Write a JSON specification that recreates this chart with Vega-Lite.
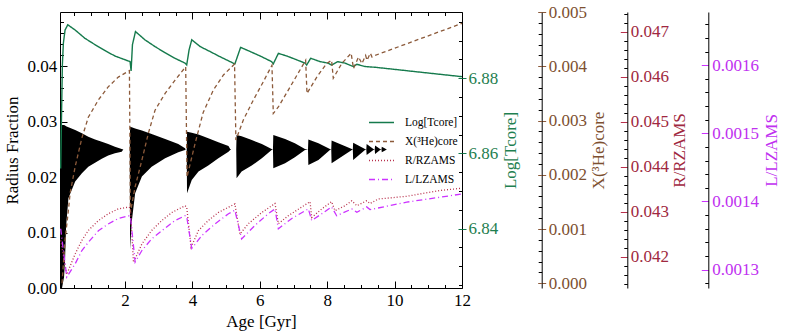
{
 "$schema": "https://vega.github.io/schema/vega-lite/v6.json",
 "width": 402, "height": 276,
 "autosize": {"type": "none"},
 "padding": {"left": 60, "top": 12, "right": 327, "bottom": 48},
 "background": "white",
 "datasets": {
  "core": [
   {"age":0.085,"hi":0.0282,"lo":0.0},{"age":0.13,"hi":0.0294,"lo":0.0},{"age":0.19,"hi":0.0294,"lo":0.002},{"age":0.22,"hi":0.0293,"lo":0.005},{"age":0.25,"hi":0.0292,"lo":0.011},{"age":0.32,"hi":0.029,"lo":0.0162},{"age":0.52,"hi":0.0285,"lo":0.0192},{"age":0.72,"hi":0.0279,"lo":0.0207},{"age":0.91,"hi":0.0273,"lo":0.0219},{"age":1.11,"hi":0.0268,"lo":0.0226},{"age":1.31,"hi":0.0264,"lo":0.0233},{"age":1.5,"hi":0.026,"lo":0.0239},{"age":1.7,"hi":0.0255,"lo":0.0243},{"age":1.9,"hi":0.0251,"lo":0.0246},{"age":1.95,"hi":0.025,"lo":0.025},{"age":2.14,"hi":0.025,"lo":0.025},
   {"age":2.15,"hi":0.0291,"lo":0.007},{"age":2.2,"hi":0.029,"lo":0.012},{"age":2.3,"hi":0.0288,"lo":0.0171},{"age":2.5,"hi":0.0284,"lo":0.0201},{"age":2.79,"hi":0.0278,"lo":0.0219},{"age":3.19,"hi":0.0269,"lo":0.0234},{"age":3.58,"hi":0.026,"lo":0.0245},{"age":3.78,"hi":0.0252,"lo":0.0249},{"age":3.8,"hi":0.025,"lo":0.025},{"age":3.83,"hi":0.025,"lo":0.025},
   {"age":3.84,"hi":0.0282,"lo":0.0171},{"age":3.98,"hi":0.028,"lo":0.0195},{"age":4.18,"hi":0.0277,"lo":0.021},{"age":4.47,"hi":0.027,"lo":0.0221},{"age":4.77,"hi":0.0263,"lo":0.0234},{"age":5.07,"hi":0.0256,"lo":0.0246},{"age":5.12,"hi":0.0251,"lo":0.0249},{"age":5.15,"hi":0.025,"lo":0.025},{"age":5.3,"hi":0.025,"lo":0.025},
   {"age":5.31,"hi":0.0276,"lo":0.0198},{"age":5.46,"hi":0.0274,"lo":0.021},{"age":5.76,"hi":0.0267,"lo":0.0221},{"age":6.06,"hi":0.026,"lo":0.0234},{"age":6.35,"hi":0.0251,"lo":0.0249},{"age":6.39,"hi":0.025,"lo":0.025},
   {"age":6.4,"hi":0.0276,"lo":0.0216},{"age":6.75,"hi":0.0269,"lo":0.0225},{"age":7.04,"hi":0.0261,"lo":0.0236},{"age":7.34,"hi":0.0251,"lo":0.0249},{"age":7.43,"hi":0.025,"lo":0.025},
   {"age":7.44,"hi":0.0268,"lo":0.0222},{"age":7.74,"hi":0.0261,"lo":0.0231},{"age":8.08,"hi":0.0251,"lo":0.0249},{"age":8.12,"hi":0.025,"lo":0.025},
   {"age":8.13,"hi":0.0266,"lo":0.0225},{"age":8.73,"hi":0.0251,"lo":0.0249},{"age":8.76,"hi":0.025,"lo":0.025},
   {"age":8.77,"hi":0.0262,"lo":0.0231},{"age":9.12,"hi":0.0251,"lo":0.0249},{"age":9.16,"hi":0.025,"lo":0.025},
   {"age":9.17,"hi":0.026,"lo":0.024},{"age":9.37,"hi":0.0251,"lo":0.0249},{"age":9.41,"hi":0.025,"lo":0.025},
   {"age":9.42,"hi":0.0257,"lo":0.0242},{"age":9.57,"hi":0.0251,"lo":0.0249},{"age":9.61,"hi":0.025,"lo":0.025},
   {"age":9.62,"hi":0.0255,"lo":0.0245},{"age":9.77,"hi":0.025,"lo":0.025}
  ],
  "logt": [
   {"age":0.09,"v":6.856},{"age":0.14,"v":6.8835},{"age":0.17,"v":6.8893},{"age":0.22,"v":6.8928},{"age":0.3,"v":6.8942},{"age":0.52,"v":6.8928},{"age":0.81,"v":6.8906},{"age":1.11,"v":6.8889},{"age":1.41,"v":6.8873},{"age":1.7,"v":6.8859},{"age":2.0,"v":6.8849},{"age":2.15,"v":6.8844},{"age":2.18,"v":6.8819},{"age":2.22,"v":6.8889},{"age":2.31,"v":6.8924},{"age":2.59,"v":6.8902},{"age":2.89,"v":6.8884},{"age":3.18,"v":6.8868},{"age":3.48,"v":6.8853},{"age":3.78,"v":6.884},{"age":3.83,"v":6.8835},{"age":3.9,"v":6.8875},{"age":3.98,"v":6.8902},{"age":4.23,"v":6.8884},{"age":4.52,"v":6.8871},{"age":4.82,"v":6.8857},{"age":5.21,"v":6.884},{"age":5.26,"v":6.8838},{"age":5.43,"v":6.8882},{"age":5.71,"v":6.8871},{"age":6.01,"v":6.8859},{"age":6.35,"v":6.8844},{"age":6.4,"v":6.8838},{"age":6.55,"v":6.8866},{"age":6.8,"v":6.8859},{"age":7.09,"v":6.8849},{"age":7.34,"v":6.884},{"age":7.39,"v":6.8835},{"age":7.51,"v":6.8853},{"age":7.79,"v":6.8844},{"age":8.03,"v":6.884},{"age":8.13,"v":6.8835},{"age":8.31,"v":6.8844},{"age":8.53,"v":6.884},{"age":8.77,"v":6.8831},{"age":8.88,"v":6.8837},{"age":9.12,"v":6.8831},{"age":9.42,"v":6.8829},{"age":12.0,"v":6.8804}
  ],
  "he3": [
   {"age":0.13,"v":0.0},{"age":0.22,"v":0.0008},{"age":0.32,"v":0.00135},{"age":0.37,"v":0.00166},{"age":0.52,"v":0.00215},{"age":0.72,"v":0.00268},{"age":0.91,"v":0.00306},{"age":1.21,"v":0.00338},{"age":1.5,"v":0.00362},{"age":1.8,"v":0.0038},{"age":2.1,"v":0.00391},{"age":2.13,"v":0.00392},{"age":2.16,"v":0.00131},{"age":2.3,"v":0.00178},{"age":2.5,"v":0.00227},{"age":2.69,"v":0.00276},{"age":2.89,"v":0.00319},{"age":3.19,"v":0.0035},{"age":3.48,"v":0.00374},{"age":3.8,"v":0.00399},{"age":3.84,"v":0.00196},{"age":4.08,"v":0.00258},{"age":4.32,"v":0.00315},{"age":4.62,"v":0.00356},{"age":4.92,"v":0.00384},{"age":5.25,"v":0.00404},{"age":5.29,"v":0.00264},{"age":5.51,"v":0.00301},{"age":5.81,"v":0.00338},{"age":6.1,"v":0.00371},{"age":6.36,"v":0.00402},{"age":6.4,"v":0.00313},{"age":6.55,"v":0.00325},{"age":6.9,"v":0.00362},{"age":7.36,"v":0.00411},{"age":7.4,"v":0.0035},{"age":7.69,"v":0.0038},{"age":7.98,"v":0.00405},{"age":8.13,"v":0.00411},{"age":8.18,"v":0.00378},{"age":8.43,"v":0.00405},{"age":8.71,"v":0.00424},{"age":8.78,"v":0.00396},{"age":8.93,"v":0.00417},{"age":9.03,"v":0.00405},{"age":9.14,"v":0.0042},{"age":9.18,"v":0.00411},{"age":9.28,"v":0.00424},{"age":9.33,"v":0.00417},{"age":9.42,"v":0.0042},{"age":12.0,"v":0.00479}
  ],
  "rr": [
   {"age":0.09,"v":0.04236},{"age":0.27,"v":0.0416},{"age":0.52,"v":0.04206},{"age":0.72,"v":0.04236},{"age":0.91,"v":0.04258},{"age":1.21,"v":0.0428},{"age":1.5,"v":0.04295},{"age":1.8,"v":0.04306},{"age":2.1,"v":0.0431},{"age":2.16,"v":0.04308},{"age":2.25,"v":0.04187},{"age":2.5,"v":0.04228},{"age":2.79,"v":0.04258},{"age":3.09,"v":0.0428},{"age":3.39,"v":0.04298},{"age":3.78,"v":0.04313},{"age":3.83,"v":0.0431},{"age":3.96,"v":0.04221},{"age":4.18,"v":0.04258},{"age":4.47,"v":0.0428},{"age":4.77,"v":0.04298},{"age":5.26,"v":0.04317},{"age":5.41,"v":0.0425},{"age":5.66,"v":0.04273},{"age":6.06,"v":0.04298},{"age":6.45,"v":0.04318},{"age":6.55,"v":0.04273},{"age":6.85,"v":0.04291},{"age":7.24,"v":0.0431},{"age":7.49,"v":0.04322},{"age":7.54,"v":0.04287},{"age":7.84,"v":0.04306},{"age":8.13,"v":0.04322},{"age":8.23,"v":0.04302},{"age":8.53,"v":0.04313},{"age":8.73,"v":0.04324},{"age":8.88,"v":0.04313},{"age":9.17,"v":0.04324},{"age":9.27,"v":0.04318},{"age":9.52,"v":0.04328},{"age":10.36,"v":0.04334},{"age":11.35,"v":0.04347},{"age":12.0,"v":0.04352}
  ],
  "ll": [
   {"age":0.09,"v":0.00136},{"age":0.27,"v":0.001289},{"age":0.52,"v":0.0013085},{"age":0.72,"v":0.001328},{"age":0.91,"v":0.00134},{"age":1.21,"v":0.001357},{"age":1.5,"v":0.001367},{"age":1.8,"v":0.001375},{"age":2.1,"v":0.001379},{"age":2.16,"v":0.001378},{"age":2.3,"v":0.001311},{"age":2.5,"v":0.001328},{"age":2.79,"v":0.001345},{"age":3.09,"v":0.001357},{"age":3.48,"v":0.001372},{"age":3.78,"v":0.001379},{"age":3.83,"v":0.001378},{"age":3.98,"v":0.001331},{"age":4.28,"v":0.00135},{"age":4.67,"v":0.001367},{"age":5.07,"v":0.001382},{"age":5.26,"v":0.001387},{"age":5.46,"v":0.001345},{"age":5.86,"v":0.001365},{"age":6.25,"v":0.001382},{"age":6.45,"v":0.001389},{"age":6.55,"v":0.00136},{"age":6.95,"v":0.001375},{"age":7.44,"v":0.001389},{"age":7.54,"v":0.001372},{"age":7.84,"v":0.001382},{"age":8.13,"v":0.001392},{"age":8.28,"v":0.001379},{"age":8.73,"v":0.001389},{"age":8.88,"v":0.001384},{"age":9.17,"v":0.001392},{"age":9.27,"v":0.001388},{"age":10.36,"v":0.001399},{"age":12.0,"v":0.001411}
  ]
 },
 "config": {
  "view": {"stroke": "black", "strokeWidth": 1},
  "axis": {"grid": false, "labelFont": "Liberation Serif", "titleFont": "Liberation Serif", "labelFontSize": 17, "titleFontSize": 17, "titleFontWeight": 400, "labelFlush": false, "labelOverlap": false, "tickColor": "black", "domainColor": "black", "labelColor": "black", "titleColor": "black", "tickWidth": 1, "domainWidth": 1},
  "legend": {"labelFont": "Liberation Serif", "labelFontSize": 11.5, "labelColor": "black", "symbolType": "stroke", "symbolSize": 625, "symbolStrokeWidth": 1.5, "rowPadding": -6, "labelOffset": 10, "padding": 0}
 },
 "resolve": {"scale": {"x": "independent", "y": "independent"}},
 "layer": [
  {"data": {"name": "core"}, "mark": {"type": "area", "color": "black", "interpolate": "linear"},
   "encoding": {
    "x": {"field": "age", "type": "quantitative", "scale": {"domain": [0.07, 12], "nice": false, "zero": false},
          "axis": {"orient": "bottom", "values": [2, 4, 6, 8, 10, 12], "format": "d", "tickSize": -7, "labelPadding": 11, "domain": false, "title": "Age [Gyr]", "titleFontWeight": 400, "titlePadding": 5}},
    "y": {"field": "hi", "type": "quantitative", "scale": {"domain": [0, 0.0498], "nice": false, "zero": false},
          "axis": {"orient": "left", "values": [0, 0.01, 0.02, 0.03, 0.04], "format": ".2f", "tickSize": -7, "labelPadding": 10.3, "domain": false, "title": "Radius Fraction", "titleFontWeight": 400, "titlePadding": 5}},
    "y2": {"field": "lo"}
   }},
  {"data": {"name": "core"}, "mark": {"type": "line", "opacity": 0},
   "encoding": {
    "x": {"field": "age", "type": "quantitative", "scale": {"domain": [0.07, 12], "nice": false, "zero": false},
          "axis": {"orient": "bottom", "values": [0.5, 1, 1.5, 2.5, 3, 3.5, 4.5, 5, 5.5, 6.5, 7, 7.5, 8.5, 9, 9.5, 10.5, 11, 11.5], "labels": false, "domain": false, "tickSize": -3.5, "title": null}},
    "y": {"field": "hi", "type": "quantitative", "scale": {"domain": [0, 0.0498], "nice": false, "zero": false},
          "axis": {"orient": "left", "values": [0.002, 0.004, 0.006, 0.008, 0.012, 0.014, 0.016, 0.018, 0.022, 0.024, 0.026, 0.028, 0.032, 0.034, 0.036, 0.038, 0.042, 0.044, 0.046, 0.048], "labels": false, "domain": false, "tickSize": -3.5, "title": null}}
   }},
  {"data": {"name": "logt"}, "mark": {"type": "line", "strokeWidth": 1.4},
   "encoding": {
    "x": {"field": "age", "type": "quantitative", "scale": {"domain": [0.07, 12], "nice": false, "zero": false},
          "axis": {"orient": "top", "values": [2, 4, 6, 8, 10, 12], "labels": false, "domain": false, "tickSize": -7, "title": null}},
    "y": {"field": "v", "type": "quantitative", "scale": {"domain": [6.8242, 6.8976], "nice": false, "zero": false},
          "axis": {"orient": "right", "values": [6.84, 6.86, 6.88], "format": ".2f", "tickSize": 4, "tickColor": "#157a4c", "labelPadding": 2, "labelColor": "#1f8050", "domain": false, "title": "Log[Tcore]", "titleFontWeight": 400, "titleColor": "#1f8050", "titleAngle": 270, "titleBaseline": "top", "titlePadding": 5}},
    "color": {"datum": "Log[Tcore]", "type": "nominal",
              "scale": {"domain": ["Log[Tcore]", "X(³He)core", "R/RZAMS", "L/LZAMS"], "range": ["#157a4c", "#8c5a3a", "#b8304c", "#cc33ff"]},
              "legend": {"orient": "none", "legendX": 308, "legendY": 97, "title": null}},
    "strokeDash": {"datum": "Log[Tcore]", "type": "nominal",
              "scale": {"domain": ["Log[Tcore]", "X(³He)core", "R/RZAMS", "L/LZAMS"], "range": [[1, 0], [4, 3], [1, 2], [6, 3, 1, 3]]},
              "legend": {"orient": "none", "legendX": 308, "legendY": 97, "title": null}}
   }},
  {"data": {"name": "logt"}, "mark": {"type": "line", "opacity": 0},
   "encoding": {
    "x": {"field": "age", "type": "quantitative", "scale": {"domain": [0.07, 12], "nice": false, "zero": false},
          "axis": {"orient": "top", "values": [0.5, 1, 1.5, 2.5, 3, 3.5, 4.5, 5, 5.5, 6.5, 7, 7.5, 8.5, 9, 9.5, 10.5, 11, 11.5], "labels": false, "domain": false, "tickSize": -3.5, "title": null}},
    "y": {"field": "v", "type": "quantitative", "scale": {"domain": [6.8242, 6.8976], "nice": false, "zero": false},
          "axis": {"orient": "right", "values": [6.84, 6.86, 6.88], "labels": false, "domain": false, "tickSize": -4, "tickColor": "#157a4c", "title": null}}
   }},
  {"data": {"name": "logt"}, "mark": {"type": "line", "opacity": 0},
   "encoding": {
    "x": {"field": "age", "type": "quantitative", "scale": {"domain": [0.07, 12], "nice": false, "zero": false}, "axis": null},
    "y": {"field": "v", "type": "quantitative", "scale": {"domain": [6.8242, 6.8976], "nice": false, "zero": false},
          "axis": {"orient": "right", "values": [6.825, 6.83, 6.835, 6.845, 6.85, 6.855, 6.865, 6.87, 6.875, 6.885, 6.89, 6.895], "labels": false, "domain": false, "tickSize": -3.5, "title": null}}
   }},
  {"data": {"name": "he3"}, "mark": {"type": "line", "strokeWidth": 1.3},
   "encoding": {
    "x": {"field": "age", "type": "quantitative", "scale": {"domain": [0.07, 12], "nice": false, "zero": false}, "axis": null},
    "y": {"field": "v", "type": "quantitative", "scale": {"domain": [-0.0000865, 0.005], "nice": false, "zero": false},
          "axis": {"orient": "right", "offset": 79.7, "values": [0, 0.001, 0.002, 0.003, 0.004, 0.005], "format": ".3f", "tickSize": 4, "tickColor": "#8c5a3a", "labelPadding": 2.6, "labelColor": "#7d5030", "domain": true, "title": "X(³He)core", "titleFontWeight": 400, "titleColor": "#7d5030", "titleAngle": 270, "titleBaseline": "top", "titlePadding": 4}},
    "color": {"datum": "X(³He)core", "type": "nominal"},
    "strokeDash": {"datum": "X(³He)core", "type": "nominal"}
   }},
  {"data": {"name": "he3"}, "mark": {"type": "line", "opacity": 0},
   "encoding": {
    "x": {"field": "age", "type": "quantitative", "scale": {"domain": [0.07, 12], "nice": false, "zero": false}, "axis": null},
    "y": {"field": "v", "type": "quantitative", "scale": {"domain": [-0.0000865, 0.005], "nice": false, "zero": false},
          "axis": {"orient": "right", "offset": 79.7, "values": [0, 0.001, 0.002, 0.003, 0.004, 0.005], "labels": false, "domain": false, "tickSize": -4, "tickColor": "#8c5a3a", "title": null}}
   }},
  {"data": {"name": "he3"}, "mark": {"type": "line", "opacity": 0},
   "encoding": {
    "x": {"field": "age", "type": "quantitative", "scale": {"domain": [0.07, 12], "nice": false, "zero": false}, "axis": null},
    "y": {"field": "v", "type": "quantitative", "scale": {"domain": [-0.0000865, 0.005], "nice": false, "zero": false},
          "axis": {"orient": "right", "offset": 79.7, "values": [0.0002, 0.0004, 0.0006, 0.0008, 0.0012, 0.0014, 0.0016, 0.0018, 0.0022, 0.0024, 0.0026, 0.0028, 0.0032, 0.0034, 0.0036, 0.0038, 0.0042, 0.0044, 0.0046, 0.0048], "labels": false, "domain": false, "tickSize": -3.5, "title": null}}
   }},
  {"data": {"name": "rr"}, "mark": {"type": "line", "strokeWidth": 1.3},
   "encoding": {
    "x": {"field": "age", "type": "quantitative", "scale": {"domain": [0.07, 12], "nice": false, "zero": false}, "axis": null},
    "y": {"field": "v", "type": "quantitative", "scale": {"domain": [0.0413, 0.04744], "nice": false, "zero": false},
          "axis": {"orient": "right", "offset": 165.3, "values": [0.042, 0.043, 0.044, 0.045, 0.046, 0.047], "format": ".3f", "tickSize": -7, "tickColor": "#b8304c", "labelPadding": 10, "labelColor": "#a02840", "domain": true, "title": "R/RZAMS", "titleFontWeight": 400, "titleColor": "#a02840", "titleAngle": 270, "titleBaseline": "top", "titlePadding": 3}},
    "color": {"datum": "R/RZAMS", "type": "nominal"},
    "strokeDash": {"datum": "R/RZAMS", "type": "nominal"}
   }},
  {"data": {"name": "rr"}, "mark": {"type": "line", "opacity": 0},
   "encoding": {
    "x": {"field": "age", "type": "quantitative", "scale": {"domain": [0.07, 12], "nice": false, "zero": false}, "axis": null},
    "y": {"field": "v", "type": "quantitative", "scale": {"domain": [0.0413, 0.04744], "nice": false, "zero": false},
          "axis": {"orient": "right", "offset": 165.3, "values": [0.0414, 0.0416, 0.0418, 0.0422, 0.0424, 0.0426, 0.0428, 0.0432, 0.0434, 0.0436, 0.0438, 0.0442, 0.0444, 0.0446, 0.0448, 0.0452, 0.0454, 0.0456, 0.0458, 0.0462, 0.0464, 0.0466, 0.0468, 0.0472, 0.0474], "labels": false, "domain": false, "tickSize": -3.5, "title": null}}
   }},
  {"data": {"name": "ll"}, "mark": {"type": "line", "strokeWidth": 1.3},
   "encoding": {
    "x": {"field": "age", "type": "quantitative", "scale": {"domain": [0.07, 12], "nice": false, "zero": false}, "axis": null},
    "y": {"field": "v", "type": "quantitative", "scale": {"domain": [0.001273, 0.001678], "nice": false, "zero": false},
          "axis": {"orient": "right", "offset": 246.3, "values": [0.0013, 0.0014, 0.0015, 0.0016], "format": ".4f", "tickSize": -7, "tickColor": "#cc33ff", "labelPadding": 10.4, "labelColor": "#c030f0", "domain": true, "title": "L/LZAMS", "titleFontWeight": 400, "titleColor": "#c030f0", "titleAngle": 270, "titleBaseline": "top", "titlePadding": 5}},
    "color": {"datum": "L/LZAMS", "type": "nominal"},
    "strokeDash": {"datum": "L/LZAMS", "type": "nominal"}
   }},
  {"data": {"name": "ll"}, "mark": {"type": "line", "opacity": 0},
   "encoding": {
    "x": {"field": "age", "type": "quantitative", "scale": {"domain": [0.07, 12], "nice": false, "zero": false}, "axis": null},
    "y": {"field": "v", "type": "quantitative", "scale": {"domain": [0.001273, 0.001678], "nice": false, "zero": false},
          "axis": {"orient": "right", "offset": 246.3, "values": [0.00128, 0.00132, 0.00134, 0.00136, 0.00138, 0.00142, 0.00144, 0.00146, 0.00148, 0.00152, 0.00154, 0.00156, 0.00158, 0.00162, 0.00164, 0.00166], "labels": false, "domain": false, "tickSize": -3.5, "title": null}}
   }}
 ]
}
